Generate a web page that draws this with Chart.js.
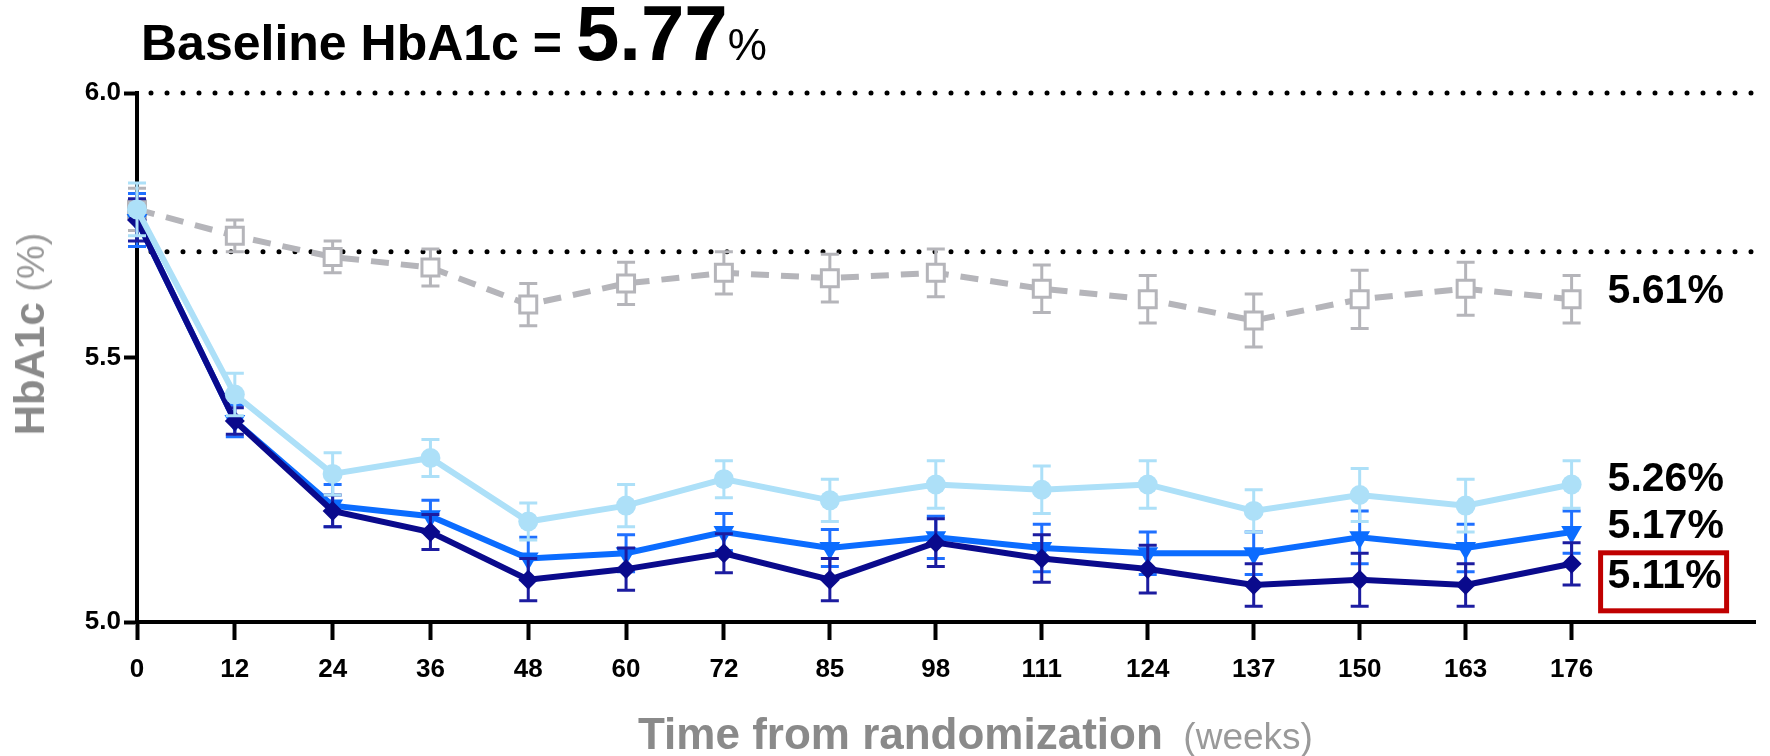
<!DOCTYPE html>
<html>
<head>
<meta charset="utf-8">
<script src="https://cdn.jsdelivr.net/npm/chart.js@4.4.1/dist/chart.umd.min.js"></script>
<style>
  html, body { margin: 0; padding: 0; background: #fff; }
  #wrap { position: relative; width: 1770px; height: 756px; font-family: "Liberation Sans", Arial, sans-serif; }
  #title { position: absolute; left: 141px; top: -6px; white-space: nowrap; line-height: 1; color: #000; }
  #title .a { font-weight: bold; font-size: 50px; }
  #title .b { font-weight: bold; font-size: 78px; }
  #title .c { font-weight: normal; font-size: 44px; }
  #ytitle { position: absolute; left: 30px; top: 334px; transform: translate(-50%, -50%) rotate(-90deg); white-space: nowrap; line-height: 1; color: #8a8a8a; }
  #ytitle .a { font-weight: bold; font-size: 42px; }
  #ytitle .c { font-weight: normal; font-size: 38px; color: #9a9a9a; }
  #xtitle { position: absolute; left: 638px; top: 712px; white-space: nowrap; line-height: 1; color: #8a8a8a; }
  #xtitle .a { font-weight: bold; font-size: 44px; }
  #xtitle .c { font-weight: normal; font-size: 37px; color: #9a9a9a; }
</style>
</head>
<body>
<div id="wrap">
  <canvas id="chart"></canvas>
  <div id="title"><span class="a">Baseline HbA1c = </span><span class="b">5.77</span><span class="c">%</span></div>
  <div id="ytitle"><span class="a">HbA1c</span><span class="c"> (%)</span></div>
  <div id="xtitle"><span class="a">Time from randomization</span><span class="c">&nbsp;&nbsp;(weeks)</span></div>
</div>
<script>
// ---- data ----
const weeks = [0, 12, 24, 36, 48, 60, 72, 85, 98, 111, 124, 137, 150, 163, 176];

const placebo    = [5.78, 5.73, 5.69, 5.67, 5.60, 5.64, 5.66, 5.65, 5.66, 5.63, 5.61, 5.57, 5.61, 5.63, 5.61];
const placeboErr = [0.04, 0.03, 0.03, 0.035, 0.04, 0.04, 0.04, 0.045, 0.045, 0.045, 0.045, 0.05, 0.055, 0.05, 0.045];

const light    = [5.78, 5.43, 5.28, 5.31, 5.19, 5.22, 5.27, 5.23, 5.26, 5.25, 5.26, 5.21, 5.24, 5.22, 5.26];
const lightErr = [0.05, 0.04, 0.04, 0.035, 0.035, 0.04, 0.035, 0.04, 0.045, 0.045, 0.045, 0.04, 0.05, 0.05, 0.045];

const medium    = [5.76, 5.38, 5.22, 5.20, 5.12, 5.13, 5.17, 5.14, 5.16, 5.14, 5.13, 5.13, 5.16, 5.14, 5.17];
const mediumErr = [0.05, 0.03, 0.04, 0.03, 0.04, 0.035, 0.035, 0.035, 0.04, 0.045, 0.04, 0.04, 0.05, 0.045, 0.04];

const navy    = [5.76, 5.38, 5.21, 5.17, 5.08, 5.10, 5.13, 5.08, 5.15, 5.12, 5.10, 5.07, 5.08, 5.07, 5.11];
const navyErr = [0.04, 0.025, 0.03, 0.033, 0.04, 0.04, 0.037, 0.04, 0.045, 0.045, 0.045, 0.04, 0.05, 0.04, 0.04];

const yTicks = [5.0, 5.5, 6.0];
const refLines = [6.0, 5.7];

// ---- styles ----
const FONT = '"Liberation Sans", Arial, sans-serif';
const C_GREY = "#b5b5ba", C_LIGHT = "#ade0f8", C_MED = "#0b6cff", C_NAVY = "#0a0a8c";
const labelShift = { light: -5, medium: -5, navy: 13, placebo: -8 };   // px, end-label nudges

const pts = (ys) => weeks.map((w, i) => ({ x: w, y: ys[i] }));

// error bars are drawn under each dataset, from its err array
const errorBars = {
  id: "errorBars",
  beforeDatasetDraw(chart, args) {
    const ds = chart.data.datasets[args.index];
    if (!ds.err) return;
    const { ctx, scales: { x, y } } = chart;
    ctx.save();
    ctx.strokeStyle = ds.errColor;
    ctx.lineWidth = 3;
    ds.data.forEach((p, i) => {
      const px = x.getPixelForValue(p.x);
      const top = y.getPixelForValue(p.y + ds.err[i]);
      const bot = y.getPixelForValue(p.y - ds.err[i]);
      ctx.beginPath();
      ctx.moveTo(px, top); ctx.lineTo(px, bot);
      ctx.moveTo(px - 9, top); ctx.lineTo(px + 9, top);
      ctx.moveTo(px - 9, bot); ctx.lineTo(px + 9, bot);
      ctx.stroke();
    });
    ctx.restore();
  }
};

// dotted reference lines at 6.0 and 5.7
const refDots = {
  id: "refDots",
  beforeDatasetsDraw(chart) {
    const { ctx, chartArea, scales: { y } } = chart;
    ctx.save();
    ctx.strokeStyle = "#000";
    ctx.lineWidth = 5;
    ctx.lineCap = "round";
    ctx.setLineDash([0, 16]);
    refLines.forEach(v => {
      const py = y.getPixelForValue(v);
      ctx.beginPath();
      ctx.moveTo(chartArea.left + 14, py);
      ctx.lineTo(chartArea.right, py);
      ctx.stroke();
    });
    ctx.restore();
  }
};

// final-value labels at the right end of each line, plus the red box
const endLabels = {
  id: "endLabels",
  afterDatasetsDraw(chart) {
    const { ctx } = chart;
    ctx.save();
    ctx.font = "bold 41px " + FONT;
    ctx.fillStyle = "#000";
    ctx.textBaseline = "middle";
    chart.data.datasets.forEach((ds, i) => {
      const meta = chart.getDatasetMeta(i);
      const last = meta.data[meta.data.length - 1];
      const v = ds.data[ds.data.length - 1].y;
      const ly = last.y + labelShift[ds.key];
      ctx.fillText(v.toFixed(2) + "%", last.x + 36, ly);
      if (ds.key === "navy") {
        ctx.strokeStyle = "#c00000";
        ctx.lineWidth = 5;
        ctx.strokeRect(last.x + 29, last.y - 11, 126, 58);
      }
    });
    ctx.restore();
  }
};

new Chart(document.getElementById("chart"), {
  type: "line",
  data: {
    datasets: [
      { key: "light", data: pts(light), err: lightErr, errColor: C_LIGHT,
        borderColor: C_LIGHT, backgroundColor: C_LIGHT, borderWidth: 6,
        pointStyle: "circle", pointRadius: 10, pointBorderWidth: 0, clip: false },
      { key: "navy", data: pts(navy), err: navyErr, errColor: "#1c1ca0",
        borderColor: C_NAVY, backgroundColor: C_NAVY, borderWidth: 6,
        pointStyle: "rectRot", pointRadius: 10, pointBorderWidth: 0, clip: false },
      { key: "medium", data: pts(medium), err: mediumErr, errColor: "#1f70ff",
        borderColor: C_MED, backgroundColor: C_MED, borderWidth: 6,
        pointStyle: "triangle", pointRotation: 180, pointRadius: 12, pointBorderWidth: 0, clip: false },
      { key: "placebo", data: pts(placebo), err: placeboErr, errColor: C_GREY,
        borderColor: C_GREY, backgroundColor: "#fff", borderWidth: 6, borderDash: [18, 12],
        pointStyle: "rect", pointRadius: 12, pointBorderWidth: 3, pointBorderColor: C_GREY,
        pointBackgroundColor: "#fff", clip: false }
    ]
  },
  options: {
    responsive: true,
    maintainAspectRatio: false,
    animation: false,
    layout: { padding: { top: 93, left: 0, right: 0, bottom: 0 } },
    plugins: { legend: { display: false }, tooltip: { enabled: false } },
    elements: { line: { tension: 0 } },
    scales: {
      x: {
        type: "linear", min: 0, max: 198.5,
        afterBuildTicks: (s) => { s.ticks = weeks.map(v => ({ value: v })); },
        afterFit: (s) => { s.height = 134; },
        border: { display: true, color: "#000", width: 4 },
        grid: { drawOnChartArea: false, drawTicks: true, tickLength: 18, tickWidth: 4, tickColor: "#000" },
        ticks: { color: "#000", font: { family: FONT, size: 26, weight: "bold" }, padding: 14,
                 maxRotation: 0, autoSkip: false, callback: (v) => String(v) }
      },
      y: {
        min: 5, max: 6,
        afterBuildTicks: (s) => { s.ticks = yTicks.map(v => ({ value: v })); },
        afterFit: (s) => { s.width = 137; },
        border: { display: true, color: "#000", width: 4 },
        grid: { drawOnChartArea: false, drawTicks: true, tickLength: 13, tickWidth: 4, tickColor: "#000" },
        ticks: { color: "#000", font: { family: FONT, size: 26, weight: "bold" }, padding: 3,
                 callback: (v) => v.toFixed(1) }
      }
    }
  },
  plugins: [errorBars, refDots, endLabels]
});
</script>
</body>
</html>
